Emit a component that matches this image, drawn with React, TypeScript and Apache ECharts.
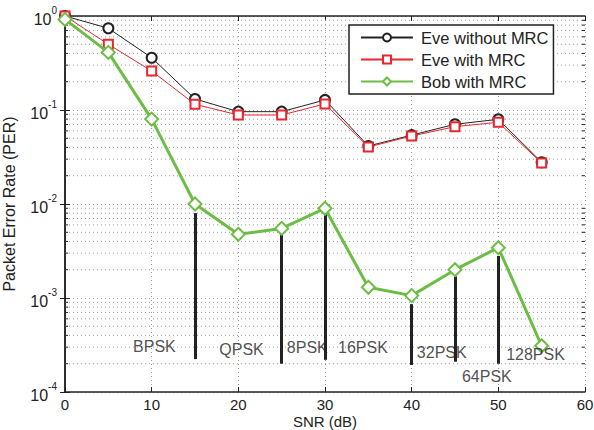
import React, { useEffect, useRef } from "react";
import * as echarts from "echarts";

// SNR sweep (dB)
const snr = [0, 5, 10, 15, 20, 25, 30, 35, 40, 45, 50, 55];

// Packet error rates per receiver
const eveWithoutMrc = [1, 0.74, 0.36, 0.131, 0.096, 0.096, 0.128, 0.0414, 0.054, 0.0705, 0.0796, 0.0278];
const eveWithMrc = [1, 0.5, 0.26, 0.115, 0.0885, 0.0885, 0.116, 0.0404, 0.0529, 0.0665, 0.074, 0.0273];
const bobWithMrc = [0.92, 0.41, 0.08, 0.01, 0.00476, 0.0055, 0.009, 0.0013, 0.00106, 0.002, 0.00343, 0.00031];

// Modulation switch markers (vertical bars)
const switchSnr = [15, 25, 30, 40, 45, 50];
const switchTop = [0.008, 0.0049, 0.008, 0.00086, 0.0017, 0.0028];
const switchBottom = [0.000224, 0.0002, 0.00022, 0.000194, 0.00021, 0.0002];

// Modulation labels, anchored at their left edge
const modNames = ["BPSK", "QPSK", "8PSK", "16PSK", "32PSK", "64PSK", "128PSK"];
const modX = [7.85, 17.8, 25.6, 31.5, 40.6, 45.8, 50.9];
const modY = [3.08e-4, 2.85e-4, 3.0e-4, 2.94e-4, 2.6e-4, 1.45e-4, 2.48e-4];

const FONT = "Liberation Sans, Arial, sans-serif";
const INK = "#222";
const RED = "#e8262e";
const GREEN = "#6cbd45";

// Minor decade positions for the log axis grid
const minorLevels: number[] = [];
for (let k = -4; k <= -1; k++) {
  for (let m = 2; m <= 9; m++) minorLevels.push(m * Math.pow(10, k));
}

const yLabel = (v: number) => {
  const e = Math.round(Math.log10(v));
  return `{b|10}{s|${e}}`;
};

export default function App() {
  const ref = useRef<HTMLDivElement>(null);

  useEffect(() => {
    if (!ref.current) return;
    const chart = echarts.init(ref.current, undefined, { renderer: "svg" });

    const axisLine = { show: true, lineStyle: { color: INK, width: 1.5 } };
    const tick = { show: true, inside: true, length: 5, lineStyle: { color: INK, width: 1 } };
    const grid = { show: true, lineStyle: { color: "#9a9a9a", type: [1, 3], width: 1 } };

    chart.setOption({
      animation: false,
      backgroundColor: "#fff",
      textStyle: { fontFamily: FONT },
      grid: { left: 65, right: 9, top: 16, bottom: 38, containLabel: false, outerBoundsMode: "none" },
      legend: {
        data: ["Eve without MRC", "Eve with MRC", "Bob with MRC"],
        orient: "vertical",
        left: 349,
        top: 25,
        padding: [4, 5, 4, 11],
        itemGap: 5,
        itemWidth: 52,
        itemHeight: 10,
        backgroundColor: "#fff",
        borderColor: INK,
        borderWidth: 1.5,
        borderRadius: 0,
        textStyle: { fontFamily: FONT, fontSize: 16.5, lineHeight: 16, color: INK, padding: [0, 0, 0, 3] },
      },
      xAxis: [
        {
          type: "value",
          min: 0,
          max: 60,
          interval: 10,
          name: "SNR (dB)",
          nameLocation: "middle",
          nameGap: 22,
          nameMoveOverlap: false,
          nameTextStyle: { fontFamily: FONT, fontSize: 15, color: INK },
          axisLine,
          axisTick: tick,
          axisLabel: { fontFamily: FONT, fontSize: 15, color: INK, margin: 5 },
          splitLine: grid,
        },
        {
          type: "value",
          position: "top",
          min: 0,
          max: 60,
          interval: 10,
          axisLine,
          axisTick: tick,
          axisLabel: { show: false },
          splitLine: { show: false },
        },
      ],
      yAxis: [
        {
          type: "log",
          logBase: 10,
          min: 1e-4,
          max: 1,
          name: "Packet Error Rate (PER)",
          nameLocation: "middle",
          nameGap: 48,
          nameMoveOverlap: false,
          nameTextStyle: { fontFamily: FONT, fontSize: 16, color: INK },
          axisLine,
          axisTick: tick,
          axisLabel: {
            margin: 8,
            formatter: yLabel,
            rich: {
              b: { fontFamily: FONT, fontSize: 16, color: INK, lineHeight: 22, verticalAlign: "bottom" },
              s: { fontFamily: FONT, fontSize: 10, color: INK, lineHeight: 10, verticalAlign: "top" },
            },
          },
          splitLine: grid,
        },
        {
          type: "log",
          logBase: 10,
          min: 1e-4,
          max: 1,
          position: "right",
          axisLine,
          axisTick: tick,
          axisLabel: { show: false },
          splitLine: { show: false },
        },
      ],
      series: [
        {
          // minor grid lines and minor ticks on both vertical borders
          type: "custom",
          silent: true,
          clip: true,
          z: 1,
          data: minorLevels.map((v) => [0, v]),
          renderItem: (_params: any, api: any) => {
            const v = api.value(1);
            const a = api.coord([0, v]);
            const b = api.coord([60, v]);
            return {
              type: "group",
              children: [
                {
                  type: "line",
                  shape: { x1: a[0], y1: a[1], x2: b[0], y2: b[1] },
                  style: { stroke: "#9a9a9a", lineWidth: 1, lineDash: [1, 3] },
                },
                {
                  type: "line",
                  shape: { x1: a[0], y1: a[1], x2: a[0] + 3, y2: a[1] },
                  style: { stroke: INK, lineWidth: 1 },
                },
                {
                  type: "line",
                  shape: { x1: b[0] - 3, y1: b[1], x2: b[0], y2: b[1] },
                  style: { stroke: INK, lineWidth: 1 },
                },
              ],
            };
          },
        },
        {
          name: "Eve without MRC",
          type: "line",
          data: snr.map((x, i) => [x, eveWithoutMrc[i]]),
          symbol: "emptyCircle",
          symbolSize: 10,
          color: INK,
          lineStyle: { width: 1, color: INK },
          itemStyle: { color: INK, borderWidth: 1.2 },
          z: 3,
        },
        {
          name: "Eve with MRC",
          type: "line",
          data: snr.map((x, i) => [x, eveWithMrc[i]]),
          symbol: "emptyRect",
          symbolSize: 9,
          color: RED,
          lineStyle: { width: 1, color: RED },
          itemStyle: { color: RED, borderWidth: 1.2 },
          z: 4,
        },
        {
          name: "Bob with MRC",
          type: "line",
          data: snr.map((x, i) => [x, bobWithMrc[i]]),
          symbol: "emptyDiamond",
          symbolSize: 13,
          color: GREEN,
          lineStyle: { width: 3, color: GREEN },
          itemStyle: { color: GREEN, borderWidth: 2 },
          z: 5,
        },
        {
          // modulation switch bars
          type: "line",
          data: [],
          silent: true,
          markLine: {
            silent: true,
            symbol: "none",
            label: { show: false },
            lineStyle: { color: INK, width: 3, type: "solid" },
            data: switchSnr.map((x, i) => [
              { coord: [x, switchTop[i]] },
              { coord: [x, switchBottom[i]] },
            ]),
          },
          z: 2,
        },
        {
          // modulation labels
          type: "scatter",
          silent: true,
          symbolSize: 0,
          data: modNames.map((n, i) => ({ value: [modX[i], modY[i]], name: n })),
          label: {
            show: true,
            position: "right",
            distance: 0,
            formatter: (p: any) => p.name,
            fontFamily: FONT,
            fontSize: 16,
            color: INK,
          },
          z: 6,
        },
      ],
    });

    return () => chart.dispose();
  }, []);

  return (
    <div
      ref={ref}
      style={{ position: "absolute", left: 0, top: 0, width: 594, height: 430 }}
    />
  );
}
